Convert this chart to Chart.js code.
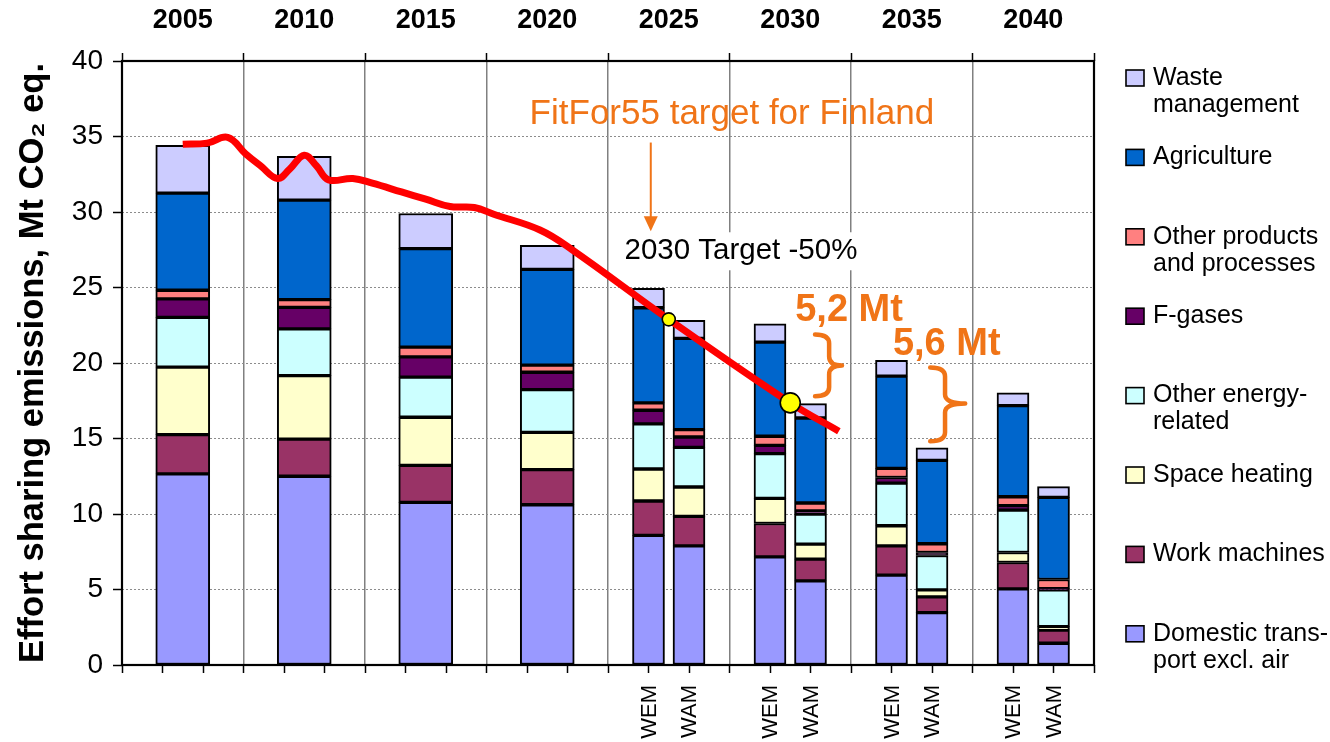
<!DOCTYPE html>
<html>
<head>
<meta charset="utf-8">
<script src="https://cdn.jsdelivr.net/npm/chart.js@4.4.1/dist/chart.umd.min.js"></script>
<style>
  html, body { margin: 0; padding: 0; background: #fff; }
  #wrap { width: 1330px; height: 742px; }
</style>
</head>
<body>
<div id="wrap"><canvas id="chart" width="1330" height="742"></canvas></div>
<script>
const FONT = 'Arial, "Liberation Sans", Helvetica, sans-serif';
const ORANGE = '#F07417';

const years = ['2005', '2010', '2015', '2020', '2025', '2030', '2035', '2040'];
const scenarios = ['WEM', 'WAM'];

const sectors = ['Domestic transport excl. air', 'Work machines', 'Space heating', 'Other energy-related',
                 'F-gases', 'Other products and processes', 'Agriculture', 'Waste management'];
const legendLines = [['Domestic trans-', 'port excl. air'], ['Work machines'], ['Space heating'],
                     ['Other energy-', 'related'], ['F-gases'], ['Other products', 'and processes'],
                     ['Agriculture'], ['Waste', 'management']];
const sectorColors = ['#9999FF', '#993366', '#FFFFCC', '#CCFFFF', '#660066', '#FF8080', '#0066CC', '#CCCCFF'];

// Mt CO2 eq. -- history + WEM (with existing measures)
const wemTransport     = [12.66, 12.50, 10.77, 10.61, 8.58, 7.16, 5.95, 5.04];
const wemWork          = [2.60, 2.46, 2.45, 2.33, 2.28, 2.21, 1.94, 1.75];
const wemSpace         = [4.47, 4.20, 3.19, 2.47, 2.12, 1.66, 1.33, 0.66];
const wemOtherEnergy   = [3.29, 3.10, 2.65, 2.83, 2.99, 2.97, 2.83, 2.81];
const wemFgases        = [1.23, 1.42, 1.35, 1.15, 0.90, 0.55, 0.37, 0.29];
const wemOtherProducts = [0.57, 0.52, 0.64, 0.47, 0.49, 0.60, 0.60, 0.59];
const wemAgriculture   = [6.43, 6.59, 6.52, 6.34, 6.30, 6.23, 6.11, 6.04];
const wemWaste         = [3.17, 2.90, 2.33, 1.59, 1.28, 1.22, 1.04, 0.84];

// WAM (with additional measures), projections only
const wamTransport     = [null, null, null, null, 7.89, 5.57, 3.47, 1.44];
const wamWork          = [null, null, null, null, 1.95, 1.44, 1.04, 0.88];
const wamSpace         = [null, null, null, null, 1.95, 0.99, 0.47, 0.22];
const wamOtherEnergy   = [null, null, null, null, 2.62, 2.00, 2.27, 2.44];
const wamFgases        = [null, null, null, null, 0.69, 0.20, 0.20, 0.08];
const wamOtherProducts = [null, null, null, null, 0.49, 0.53, 0.58, 0.60];
const wamAgriculture   = [null, null, null, null, 6.04, 5.63, 5.52, 5.44];
const wamWaste         = [null, null, null, null, 1.19, 0.95, 0.84, 0.71];

// FitFor55 target path
const targetYears  = [2005, 2006, 2006.85, 2007.6, 2008.2, 2008.9, 2009.4, 2010, 2010.5, 2011, 2012,
                      2012.8, 2014, 2015, 2016, 2017, 2017.8, 2019.7, 2021, 2025, 2030, 2032];
const targetValues = [34.49, 34.56, 34.94, 33.83, 33.06, 32.22, 32.84, 33.76, 33.06, 32.13, 32.22,
                      31.91, 31.33, 30.85, 30.36, 30.30, 29.85, 28.81, 27.53, 22.89, 17.36, 15.48];
const markerYears  = [2025, 2030];
const markerValues = [22.89, 17.36];

const wemSeries = [wemTransport, wemWork, wemSpace, wemOtherEnergy, wemFgases, wemOtherProducts, wemAgriculture, wemWaste];
const wamSeries = [wamTransport, wamWork, wamSpace, wamOtherEnergy, wamFgases, wamOtherProducts, wamAgriculture, wamWaste];

const isProjection = wamTransport.map(v => v !== null);
const pairShift = 5 / 6;   // WEM/WAM bars sit one third of a 5-year slot apart

function barSet(label, i, points, thickness) {
  return {
    label: label,
    data: points,
    backgroundColor: sectorColors[i],
    borderColor: '#000',
    borderWidth: 2,
    borderSkipped: false,
    grouped: false,
    barThickness: thickness,
    xAxisID: 'xl',
    yAxisID: 'y'
  };
}

const datasets = [];
sectors.forEach((name, i) => {
  const pts = [];
  wemSeries[i].forEach((v, k) => { if (!isProjection[k]) pts.push({x: +years[k], y: v}); });
  datasets.push(barSet(name, i, pts, 54));
});
sectors.forEach((name, i) => {
  const pts = [];
  wemSeries[i].forEach((v, k) => { if (isProjection[k]) pts.push({x: +years[k] - pairShift, y: v}); });
  datasets.push(barSet(name + ' WEM', i, pts, 32));
});
sectors.forEach((name, i) => {
  const pts = [];
  wamSeries[i].forEach((v, k) => { if (v !== null) pts.push({x: +years[k] + pairShift, y: v}); });
  datasets.push(barSet(name + ' WAM', i, pts, 32));
});
datasets.push({
  type: 'line',
  label: 'FitFor55 target',
  stack: 'target',
  xAxisID: 'xl',
  yAxisID: 'y',
  data: targetYears.map((x, i) => ({x: x, y: targetValues[i]})),
  borderColor: '#FF0000',
  borderWidth: 7,
  pointRadius: 0,
  tension: 0.4,
  order: -1
});
datasets.push({
  type: 'line',
  label: 'target points',
  stack: 'points',
  xAxisID: 'xl',
  yAxisID: 'y',
  data: markerYears.map((x, i) => ({x: x, y: markerValues[i]})),
  showLine: false,
  pointRadius: [6.5, 10],
  pointBackgroundColor: '#FFFF00',
  pointBorderColor: '#000',
  pointBorderWidth: 1.6,
  order: -2
});

function drawBrace(ctx, xl, xs, xt, yt, ym, yb) {
  const r = 9;
  ctx.beginPath();
  ctx.moveTo(xl, yt);
  ctx.quadraticCurveTo(xs, yt, xs, yt + r);
  ctx.lineTo(xs, ym - r);
  ctx.quadraticCurveTo(xs, ym, xt, ym);
  ctx.moveTo(xt, ym);
  ctx.quadraticCurveTo(xs, ym, xs, ym + r);
  ctx.lineTo(xs, yb - r);
  ctx.quadraticCurveTo(xs, yb, xl, yb);
  ctx.stroke();
}

const decorations = {
  id: 'decorations',
  beforeDatasetsDraw(chart) {
    const {ctx} = chart;
    const xl = chart.scales.xl, y = chart.scales.y;
    // "2030 Target -50%" with white box
    ctx.save();
    ctx.font = '29.5px ' + FONT;
    const tx = xl.getPixelForValue(2027.97), ty = y.getPixelForValue(27.4);
    const w = ctx.measureText('2030 Target -50%').width;
    ctx.fillStyle = '#fff';
    ctx.fillRect(tx - w / 2 - 6, ty - 19, w + 12, 38);
    ctx.fillStyle = '#000';
    ctx.textAlign = 'center';
    ctx.textBaseline = 'middle';
    ctx.fillText('2030 Target -50%', tx, ty);
    ctx.restore();
  },
  afterDatasetsDraw(chart) {
    const {ctx, chartArea: a} = chart;
    const xl = chart.scales.xl, y = chart.scales.y;
    ctx.save();
    // plot frame
    ctx.strokeStyle = '#000';
    ctx.lineWidth = 2.2;
    ctx.strokeRect(a.left, a.top, a.right - a.left, a.bottom - a.top);

    // FitFor55 label + arrow
    ctx.fillStyle = ORANGE;
    ctx.strokeStyle = ORANGE;
    ctx.textAlign = 'center';
    ctx.textBaseline = 'middle';
    ctx.font = '35px ' + FONT;
    ctx.fillText('FitFor55 target for Finland', xl.getPixelForValue(2027.6), y.getPixelForValue(36.5));
    const ax = xl.getPixelForValue(2024.26), ay1 = y.getPixelForValue(34.6), ay2 = y.getPixelForValue(28.72);
    ctx.lineWidth = 2;
    ctx.beginPath();
    ctx.moveTo(ax, ay1);
    ctx.lineTo(ax, ay2 - 12);
    ctx.stroke();
    ctx.beginPath();
    ctx.moveTo(ax - 7, ay2 - 15);
    ctx.lineTo(ax + 7, ay2 - 15);
    ctx.lineTo(ax, ay2);
    ctx.closePath();
    ctx.fill();

    // gap labels and braces
    ctx.font = 'bold 38px ' + FONT;
    ctx.fillText('5,2 Mt', xl.getPixelForValue(2032.42), y.getPixelForValue(23.48));
    ctx.fillText('5,6 Mt', xl.getPixelForValue(2036.44), y.getPixelForValue(21.23));
    ctx.lineWidth = 4.5;
    ctx.lineCap = 'round';
    drawBrace(ctx, xl.getPixelForValue(2031.02), xl.getPixelForValue(2031.6), xl.getPixelForValue(2032.13),
              y.getPixelForValue(21.89), y.getPixelForValue(19.83), y.getPixelForValue(17.8));
    drawBrace(ctx, xl.getPixelForValue(2035.76), xl.getPixelForValue(2036.37), xl.getPixelForValue(2037.2),
              y.getPixelForValue(19.7), y.getPixelForValue(17.31), y.getPixelForValue(14.82));
    ctx.restore();
  },
  afterDraw(chart) {
    const {ctx, chartArea: a} = chart;
    ctx.save();
    // WEM / WAM labels under the projection bars
    ctx.font = '22px ' + FONT;
    ctx.fillStyle = '#000';
    ctx.textAlign = 'right';
    ctx.textBaseline = 'middle';
    scenarios.forEach((sc, s) => {
      const meta = chart.getDatasetMeta((s + 1) * sectors.length);
      meta.data.forEach(bar => {
        ctx.save();
        ctx.translate(bar.x, a.bottom + 20);
        ctx.rotate(-Math.PI / 2);
        ctx.fillText(sc, 0, 1);
        ctx.restore();
      });
    });

    // legend, top item = last sector
    const bx = a.right + 32, top = 78, step = 79.4;
    ctx.font = '25px ' + FONT;
    ctx.textAlign = 'left';
    for (let k = 0; k < sectors.length; k++) {
      const i = sectors.length - 1 - k;
      const cy = top + k * step;
      ctx.fillStyle = sectorColors[i];
      ctx.fillRect(bx, cy - 8, 18, 16);
      ctx.strokeStyle = '#000';
      ctx.lineWidth = 1.6;
      ctx.strokeRect(bx, cy - 8, 18, 16);
      ctx.fillStyle = '#000';
      legendLines[i].forEach((line, j) => ctx.fillText(line, bx + 27, cy + j * 27));
    }
    ctx.restore();
  }
};

new Chart(document.getElementById('chart'), {
  type: 'bar',
  data: { labels: years, datasets: datasets },
  options: {
    responsive: false,
    animation: false,
    devicePixelRatio: 1,
    events: [],
    layout: { padding: { left: 0, right: 236, top: 0, bottom: 0 } },
    plugins: { legend: { display: false }, tooltip: { enabled: false } },
    scales: {
      x: {
        type: 'category',
        offset: true,
        grid: { offset: true, color: '#808080', lineWidth: 1.5, drawTicks: false },
        border: { display: false },
        ticks: { display: false },
        afterFit: s => { s.height = 0; }
      },
      xl: {
        type: 'linear',
        position: 'bottom',
        weight: 1,
        offset: false,
        min: 2002.5,
        max: 2042.5,
        ticks: { display: false },
        grid: { display: false, offset: false },
        border: { display: false },
        afterFit: s => { s.height = 0; }
      },
      xs: {
        type: 'linear',
        position: 'bottom',
        weight: 2,
        offset: false,
        min: 0,
        max: 24,
        ticks: { display: false, stepSize: 1 },
        grid: { offset: false, drawOnChartArea: false, tickLength: 8, tickColor: '#000', tickWidth: 1.5 },
        border: { display: false },
        afterFit: s => { s.height = 77; }
      },
      xt: {
        type: 'category',
        labels: years,
        position: 'top',
        offset: true,
        grid: { offset: true, drawOnChartArea: false, tickLength: 8, tickColor: '#000', tickWidth: 1.5 },
        border: { display: false },
        ticks: { font: { family: FONT, size: 27, weight: 'bold' }, color: '#000', padding: 16 },
        afterFit: s => { s.height = 61; }
      },
      y: {
        stacked: true,
        min: 0,
        max: 40,
        ticks: { stepSize: 5, font: { family: FONT, size: 28 }, color: '#000', padding: 10 },
        grid: { color: '#8c8c8c', lineWidth: 1, tickLength: 9, tickColor: '#000', tickWidth: 1.5 },
        border: { display: false, dash: [2, 2] },
        title: {
          display: true,
          text: 'Effort sharing emissions, Mt CO\u2082 eq.',
          font: { family: FONT, size: 34.5, weight: 'bold' },
          color: '#000',
          padding: { top: 13, bottom: 0 }
        },
        afterFit: s => { s.width = 122; }
      }
    }
  },
  plugins: [decorations]
});
</script>
</body>
</html>
